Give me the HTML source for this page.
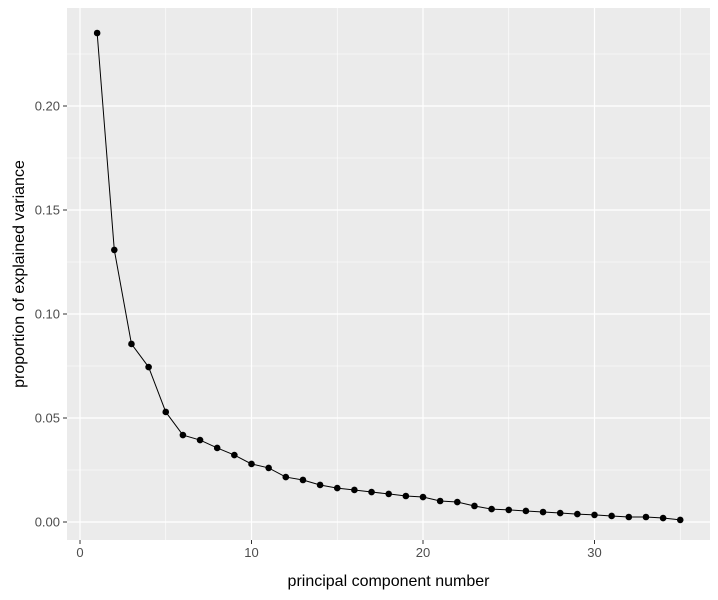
<!DOCTYPE html>
<html><head><meta charset="utf-8"><style>
body{margin:0;background:#fff;}
svg{display:block;font-family:"Liberation Sans",sans-serif;}
</style></head><body>
<svg id="chart" width="718" height="600"></svg>
<script>
const components = [];
for (let i = 1; i <= 35; i++) components.push(i);
const variance = [0.2351,0.1308,0.0856,0.0745,0.0529,0.0418,0.0394,0.0356,0.0322,0.0279,0.0260,0.0216,0.0202,0.0178,0.0163,0.0154,0.0144,0.0135,0.0125,0.0120,0.0101,0.0096,0.0077,0.0062,0.0058,0.0053,0.0048,0.0043,0.0038,0.0034,0.0029,0.0024,0.0024,0.0019,0.0010];
const xTicks = [0,10,20,30];
const yTicks = [0,0.05,0.10,0.15,0.20];
const yTickLabels = ["0.00","0.05","0.10","0.15","0.20"];

const NS = "http://www.w3.org/2000/svg";
const svg = document.getElementById("chart");
const L=67,R=710,T=8,B=540;
const xs = v => 80 + v*17.15;
const ys = v => 522 - v*2080;
function el(tag, attrs, parent){const e=document.createElementNS(NS,tag);for(const k in attrs)e.setAttribute(k,attrs[k]);(parent||svg).appendChild(e);return e;}

const panel = el("rect",{x:L,y:T,width:R-L,height:B-T,fill:"#ebebeb"});



// minor grid
[5,15,25,35].forEach(v=>{const g=el("line",{x1:xs(v),x2:xs(v),y1:T,y2:B,stroke:"#fff","stroke-width":0.6});

});
[0.025,0.075,0.125,0.175,0.225].forEach(v=>{const g=el("line",{x1:L,x2:R,y1:ys(v),y2:ys(v),stroke:"#fff","stroke-width":0.6});

});
// major grid + ticks
xTicks.forEach(v=>{
const g=el("line",{x1:xs(v),x2:xs(v),y1:T,y2:B,stroke:"#fff","stroke-width":1.2});


const t=el("line",{x1:xs(v),x2:xs(v),y1:B,y2:B+4,stroke:"#333","stroke-width":1});


const tx=el("text",{x:xs(v),y:B+17,"text-anchor":"middle","font-size":13,fill:"#4d4d4d"});tx.textContent=v;


});
yTicks.forEach((v,i)=>{
const g=el("line",{x1:L,x2:R,y1:ys(v),y2:ys(v),stroke:"#fff","stroke-width":1.2});


const t=el("line",{x1:L-4,x2:L,y1:ys(v),y2:ys(v),stroke:"#333","stroke-width":1});


const tx=el("text",{x:L-7,y:ys(v)+4.5,"text-anchor":"end","font-size":13,fill:"#4d4d4d"});tx.textContent=yTickLabels[i];


});
// line
const line=el("polyline",{points:components.map((c,i)=>xs(c)+","+ys(variance[i])).join(" "),fill:"none",stroke:"#000","stroke-width":1});


components.forEach((c,i)=>{
const p=el("circle",{cx:xs(c),cy:ys(variance[i]),r:3.3,fill:"#000"});


});
const xt=el("text",{x:(L+R)/2,y:586,"text-anchor":"middle","font-size":16,fill:"#000"});xt.textContent="principal component number";


const yt=el("text",{x:0,y:0,"text-anchor":"middle","font-size":16,fill:"#000",transform:"translate(24,"+((T+B)/2)+") rotate(-90)"});yt.textContent="proportion of explained variance";


</script>
</body></html>
